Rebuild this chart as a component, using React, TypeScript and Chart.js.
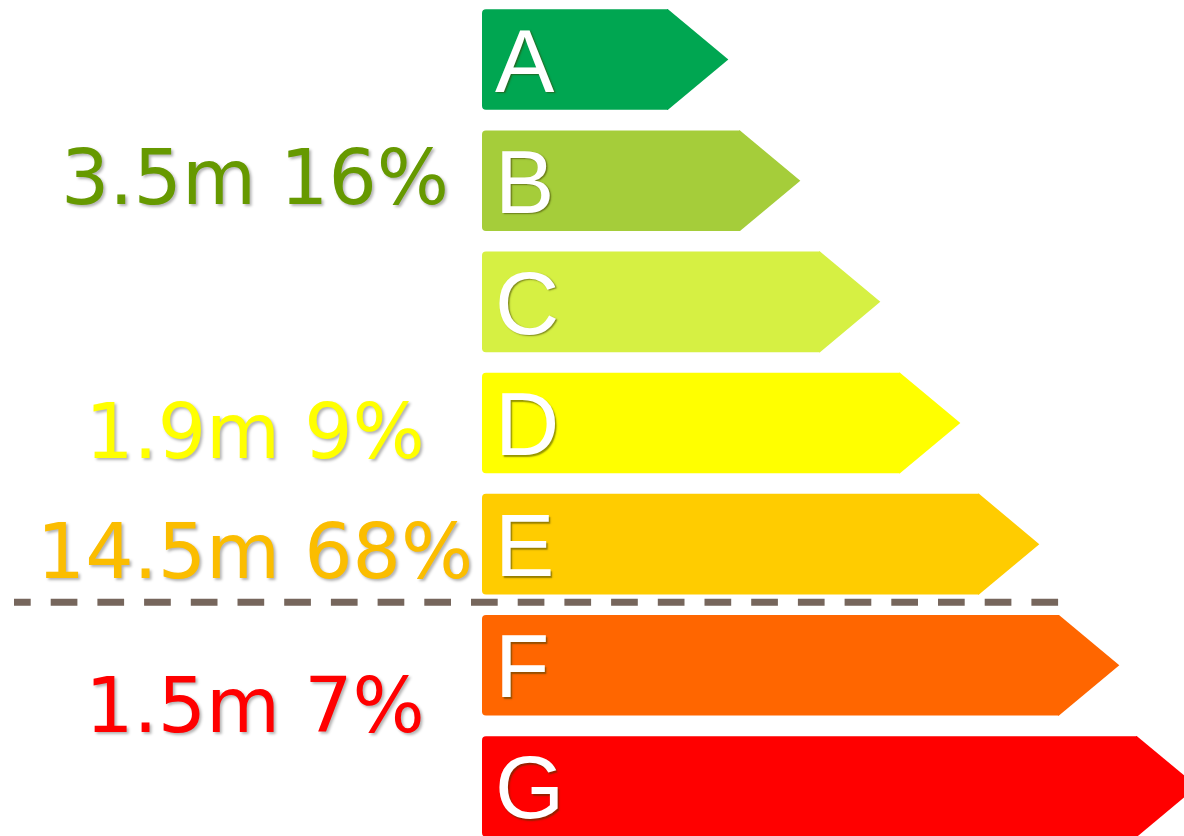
import React, { useEffect, useRef } from "react";
import { Chart, registerables } from "chart.js";

Chart.register(...registerables);

// Energy rating bands
const categories = ["A", "B", "C", "D", "E", "F", "G"];
// Relative band lengths (rectangle part of each arrow)
const bandLengths = [186, 258, 338, 418, 497, 577, 655];
const bandColors = ["#00a651", "#a5cd3a", "#d6f043", "#ffff00", "#ffcc00", "#ff6600", "#ff0000"];

// Annotations on the left
const groupLabels = ["3.5m 16%", "1.9m 9%", "14.5m 68%", "1.5m 7%"];
const groupColors = ["#669900", "#ffff00", "#fbbd00", "#ff0000"];
// position in category units (0 = A ... 6 = G)
const groupPositions = [0.96, 3.06, 4.05, 5.32];

// Dividing line between E and F
const dividerPosition = 4.48;

const arrowPlugin = {
  id: "arrowPlugin",
  afterDatasetsDraw(chart: any) {
    const ctx = chart.ctx as CanvasRenderingContext2D;
    const meta = chart.getDatasetMeta(0);
    const xScale = chart.scales.x;
    const yScale = chart.scales.y;
    ctx.save();
    // arrow tips
    meta.data.forEach((el: any, i: number) => {
      const h = el.height;
      const top = el.y - h / 2;
      const bottom = el.y + h / 2;
      const depth = h * 0.6;
      ctx.fillStyle = bandColors[i];
      ctx.beginPath();
      ctx.moveTo(el.x - 1, top);
      ctx.lineTo(el.x, top);
      ctx.lineTo(el.x + depth, el.y);
      ctx.lineTo(el.x, bottom);
      ctx.lineTo(el.x - 1, bottom);
      ctx.closePath();
      ctx.fill();
    });
    // letters
    ctx.font = '89px "Liberation Sans", Arial, sans-serif';
    ctx.textAlign = "left";
    ctx.textBaseline = "alphabetic";
    meta.data.forEach((el: any, i: number) => {
      ctx.shadowColor = "rgba(60,60,0,0.55)";
      ctx.shadowOffsetX = 1.5;
      ctx.shadowOffsetY = 1.5;
      ctx.shadowBlur = 1.5;
      ctx.fillStyle = "#ffffff";
      ctx.fillText(categories[i], el.base + 13, el.y + 32);
    });
    // group labels
    ctx.font = '76px "DejaVu Sans", Verdana, sans-serif';
    ctx.textAlign = "center";
    groupLabels.forEach((t, i) => {
      const y = yScale.getPixelForValue(groupPositions[i]);
      ctx.shadowColor = "rgba(0,0,0,0.3)";
      ctx.shadowOffsetX = 2;
      ctx.shadowOffsetY = 2;
      ctx.shadowBlur = 3;
      ctx.fillStyle = groupColors[i];
      ctx.fillText(t, 255, y + 28);
    });
    ctx.shadowColor = "transparent";
    ctx.shadowBlur = 0;
    ctx.shadowOffsetX = 0;
    ctx.shadowOffsetY = 0;
    // dashed divider
    const dy = yScale.getPixelForValue(dividerPosition);
    const endX = xScale.getPixelForValue(bandLengths[5]);
    ctx.strokeStyle = "#76665c";
    ctx.lineWidth = 7;
    ctx.setLineDash([26.7, 20]);
    ctx.lineDashOffset = 10;
    ctx.beginPath();
    ctx.moveTo(14, dy);
    ctx.lineTo(endX, dy);
    ctx.stroke();
    ctx.restore();
  },
};

export default function App() {
  const ref = useRef<HTMLCanvasElement>(null);
  useEffect(() => {
    document.body.style.margin = "0";
    document.body.style.overflow = "hidden";
    const chart = new Chart(ref.current!, {
      type: "bar",
      data: {
        labels: categories,
        datasets: [
          {
            data: bandLengths,
            backgroundColor: bandColors,
            borderWidth: 0,
            borderSkipped: false,
            borderRadius: { topLeft: 4, bottomLeft: 4, topRight: 0, bottomRight: 0 },
            barPercentage: 0.83,
            categoryPercentage: 1,
          },
        ],
      },
      options: {
        indexAxis: "y",
        animation: false,
        responsive: false,
        layout: { padding: { left: 482, right: 0, top: 0, bottom: 0 } },
        scales: {
          x: { display: false, min: 0, max: 702 },
          y: { display: false },
        },
        plugins: { legend: { display: false }, tooltip: { enabled: false } },
      },
      plugins: [arrowPlugin],
    });
    return () => chart.destroy();
  }, []);
  return (
    <div style={{ width: 1184, height: 848, marginTop: -1, position: "relative" }}>
      <canvas ref={ref} width={1184} height={848} />
    </div>
  );
}
